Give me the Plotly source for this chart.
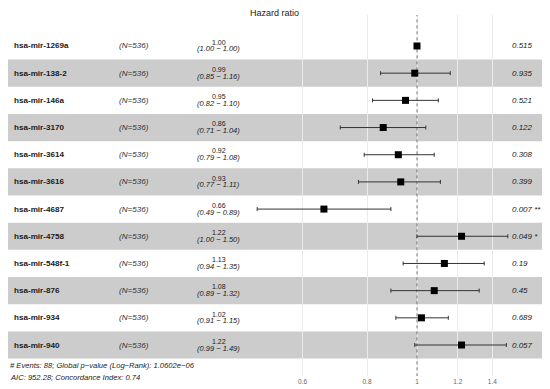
import plotly.graph_objects as go

variables = ["hsa-mir-1269a", "hsa-mir-138-2", "hsa-mir-146a", "hsa-mir-3170",
             "hsa-mir-3614", "hsa-mir-3616", "hsa-mir-4687", "hsa-mir-4758",
             "hsa-mir-548f-1", "hsa-mir-876", "hsa-mir-934", "hsa-mir-940"]
n_label = ["(N=536)"] * 12
hr = [1.00, 0.99, 0.95, 0.86, 0.92, 0.93, 0.66, 1.22, 1.13, 1.08, 1.02, 1.22]
ci_low = [1.00, 0.85, 0.82, 0.71, 0.79, 0.77, 0.49, 1.00, 0.94, 0.89, 0.91, 0.99]
ci_high = [1.00, 1.16, 1.10, 1.04, 1.08, 1.11, 0.89, 1.50, 1.35, 1.32, 1.15, 1.49]
p_text = ["0.515", "0.935", "0.521", "0.122", "0.308", "0.399", "0.007 **",
          "0.049 *", "0.19", "0.45", "0.689", "0.057"]
tick_vals = [0.6, 0.8, 1, 1.2, 1.4]
tick_text = ["0.6", "0.8", "1", "1.2", "1.4"]
footer = ["# Events: 88; Global p\u2212value (Log\u2212Rank): 1.0602e\u221206",
          "AIC: 952.28; Concordance Index: 0.74"]

W, H = 550, 389
OFF = 8            # page body margin offset in the browser
MT, MB = 7, 21
rows = list(range(1, len(variables) + 1))
FONT = "Liberation Sans, Arial, sans-serif"
PX_PER_DECADE = 515.8
X_ONE = 417 - OFF

def px(ref_x):
    return max(ref_x - OFF, 0) / W

PH = H - MT - MB
def py(ref_y):
    return (H - MB - (ref_y - OFF)) / PH

fig = go.Figure()

# reference dotted line at HR = 1
fig.add_trace(go.Scatter(x=[1, 1], y=[-0.2, 13.2], mode="lines",
                         line=dict(color="#555555", width=0.8, dash="dot"),
                         hoverinfo="skip", showlegend=False))

fig.add_trace(go.Scatter(
    x=hr, y=rows, mode="markers",
    marker=dict(symbol="square", size=7, color="black"),
    error_x=dict(type="data", symmetric=False,
                 array=[h - m for h, m in zip(ci_high, hr)],
                 arrayminus=[m - l for m, l in zip(hr, ci_low)],
                 color="#333333", thickness=1, width=2),
    showlegend=False))

shapes = []
for i in rows:
    if i % 2 == 0:
        shapes.append(dict(type="rect", xref="paper", yref="y",
                           x0=px(3), x1=px(545), y0=i - 0.5, y1=i + 0.5,
                           fillcolor="rgba(0,0,0,0.2)", line=dict(width=0),
                           layer="below"))

ann = []
for i, name, nl, h, lo, hi, p in zip(rows, variables, n_label, hr, ci_low, ci_high, p_text):
    ann.append(dict(x=px(12), y=i, xref="paper", yref="y", text="<b>%s</b>" % name,
                    xanchor="left", yanchor="middle", showarrow=False,
                    font=dict(family=FONT, size=8.1, color="#1a1a1a")))
    ann.append(dict(x=px(117), y=i, xref="paper", yref="y", text="<i>%s</i>" % nl,
                    xanchor="left", yanchor="middle", showarrow=False,
                    font=dict(family=FONT, size=8.1, color="#333333")))
    ann.append(dict(x=px(219), y=i, xref="paper", yref="y", text="%.2f" % h,
                    xanchor="center", yanchor="middle", showarrow=False, yshift=3.8,
                    font=dict(family=FONT, size=7, color="#1a1a1a")))
    ann.append(dict(x=px(219), y=i, xref="paper", yref="y",
                    text="<i>(%.2f \u2212 %.2f)</i>" % (lo, hi),
                    xanchor="center", yanchor="middle", showarrow=False, yshift=-3,
                    font=dict(family=FONT, size=7.5, color="#1a1a1a")))
    ann.append(dict(x=px(510), y=i, xref="paper", yref="y", text="<i>%s</i>" % p,
                    xanchor="left", yanchor="middle", showarrow=False,
                    font=dict(family=FONT, size=8, color="#1a1a1a")))

ann.append(dict(x=px(274), y=py(13), xref="paper", yref="paper", text="Hazard ratio",
                xanchor="center", yanchor="middle", showarrow=False,
                font=dict(family=FONT, size=9, color="#1a1a1a")))
for txt, ypix in zip(footer, [365, 377]):
    ann.append(dict(x=px(4), y=py(ypix), xref="paper", yref="paper",
                    text="<i>%s</i>" % txt, xanchor="left", yanchor="middle",
                    showarrow=False,
                    font=dict(family=FONT, size=7.6, color="#1a1a1a")))

fig.update_layout(
    width=W, height=H, margin=dict(l=0, r=0, t=MT, b=MB),
    paper_bgcolor="white", plot_bgcolor="white",
    shapes=shapes, annotations=ann,
    xaxis=dict(type="log", range=[-X_ONE / PX_PER_DECADE, (W - X_ONE) / PX_PER_DECADE],
               tickvals=tick_vals, ticktext=tick_text, showgrid=True,
               gridcolor="#EBEBEB", gridwidth=1, zeroline=False, ticks="",
               showline=False, tickfont=dict(family=FONT, size=6.5, color="#666666")),
    yaxis=dict(range=[13.14, -0.14], showgrid=False, zeroline=False,
               showticklabels=False, ticks="", showline=False),
)

fig.write_html("out.html")
